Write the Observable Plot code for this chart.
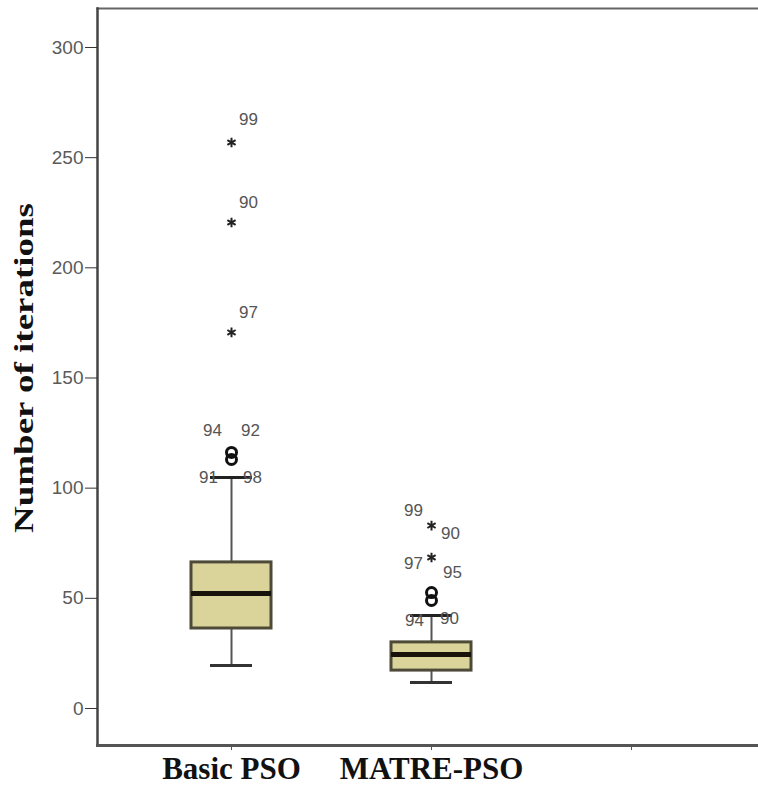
<!DOCTYPE html>
<html><head><meta charset="utf-8">
<script src="https://cdn.jsdelivr.net/npm/d3@7"></script>
<script src="https://cdn.jsdelivr.net/npm/@observablehq/plot@0.6"></script>
<style>body{margin:0;background:#fff;overflow:hidden}</style>
</head><body><div id="chart"></div>
<script>
// ---- data ----
const categories = ["Basic PSO", "MATRE-PSO", " "];   // third slot is an empty, unlabeled category
const groups = ["Basic PSO", "MATRE-PSO"];
const q1 = [36.3, 17.2];
const medians = [52.2, 24.5];
const q3 = [66.3, 30.0];
const whiskerLow = [19.5, 11.8];
const whiskerHigh = [104.8, 42.2];
const circleGroup = ["Basic PSO", "Basic PSO", "MATRE-PSO", "MATRE-PSO"];
const circleValue = [113.0, 116.2, 49.0, 52.6];
const starGroup = ["Basic PSO", "Basic PSO", "Basic PSO", "MATRE-PSO", "MATRE-PSO"];
const starValue = [256.9, 220.6, 170.7, 83.0, 68.5];
const labelText = ["99", "90", "97", "94", "92", "91", "98", "99", "90", "97", "95", "94", "90"];
const labelGroup = ["Basic PSO", "Basic PSO", "Basic PSO", "Basic PSO", "Basic PSO", "Basic PSO", "Basic PSO",
  "MATRE-PSO", "MATRE-PSO", "MATRE-PSO", "MATRE-PSO", "MATRE-PSO", "MATRE-PSO"];
const labelValue = [256.9, 220.6, 170.7, 116.2, 116.2, 104.8, 104.8, 83.0, 83.0, 68.5, 68.5, 49.0, 49.0];
const yTicks = [0, 50, 100, 150, 200, 250, 300];
const yLabel = "Number of iterations";

// ---- tables built from the arrays ----
const boxes = groups.map((g, i) => ({group: g, q1: q1[i], median: medians[i], q3: q3[i], lo: whiskerLow[i], hi: whiskerHigh[i]}));
const circles = circleGroup.map((g, i) => ({group: g, value: circleValue[i]}));
const stars = starGroup.map((g, i) => ({group: g, value: starValue[i]}));
// label placement offsets (pixels) relative to the point they annotate
const labelOffsets = [[17,-23],[17,-20],[17,-20],[-19,-22],[19,-22],[-23,0],[21,0],[-18,-15],[19,8],[-18,6],[21,15],[-17,20],[18,18]];
const labels = labelText.map((t, i) => ({text: t, group: labelGroup[i], value: labelValue[i], dx: labelOffsets[i][0], dy: labelOffsets[i][1]}));

const W = 758, H = 795;
const boxInset = 60, capInset = 79;
const sans = "Liberation Sans, Arial, sans-serif";
const serif = "Liberation Serif, Times New Roman, serif";

const marks = [
  Plot.frame({anchor: "top", stroke: "#666", strokeWidth: 2}),
  Plot.frame({anchor: "left", stroke: "#444", strokeWidth: 2.5}),
  Plot.frame({anchor: "bottom", stroke: "#555", strokeWidth: 3}),
  Plot.axisY({ticks: yTicks, tickSize: 12, tickPadding: 2, fontSize: 19, fill: "#5a5a5a", stroke: "#333",
    fontFamily: sans, label: null}),
  Plot.axisX({tickSize: 5, tickPadding: 6, fontSize: 31, fontWeight: "bold", fill: "#111",
    fontFamily: serif, label: null, stroke: "#555"}),
  Plot.text([yLabel], {frameAnchor: "left", dx: -73, dy: -9, rotate: -90, textAnchor: "middle",
    fontSize: 27, fontWeight: "bold", fontFamily: serif, fill: "#111"}),
  // whiskers
  Plot.ruleX(boxes, {x: "group", y1: "lo", y2: "q1", stroke: "#555", strokeWidth: 2}),
  Plot.ruleX(boxes, {x: "group", y1: "q3", y2: "hi", stroke: "#555", strokeWidth: 2}),
  Plot.tickY(boxes, {x: "group", y: "lo", inset: capInset, stroke: "#333", strokeWidth: 3}),
  Plot.tickY(boxes, {x: "group", y: "hi", inset: capInset, stroke: "#222", strokeWidth: 3}),
  // boxes
  Plot.barY(boxes, {x: "group", y1: "q1", y2: "q3", insetLeft: boxInset, insetRight: boxInset,
    fill: "#dad49b", stroke: "#4d4a38", strokeWidth: 3}),
  Plot.tickY(boxes, {x: "group", y: "median", inset: boxInset, stroke: "#17130a", strokeWidth: 5}),
  // outliers
  Plot.dot(circles, {x: "group", y: "value", r: 5, stroke: "#111", strokeWidth: 3, fill: "none"}),
  Plot.dot(stars, {x: "group", y: "value", r: 4.5, symbol: "asterisk", stroke: "#222", strokeWidth: 2})
];
for (const l of labels) {
  marks.push(Plot.text([l], {x: "group", y: "value", text: "text", dx: l.dx, dy: l.dy, fontSize: 17, fill: "#555",
    fontFamily: sans}));
}

const chart = Plot.plot({
  width: W, height: H,
  marginLeft: 97, marginRight: 0, marginTop: 8, marginBottom: 50,
  style: {background: "#fff", overflow: "visible"},
  x: {type: "band", domain: categories, range: [131, 731], padding: 0},
  y: {domain: [-16.8, 317.7]},
  marks
});
// stretch the axis title to the reference's length
d3.select(chart).selectAll("text").filter(function () { return this.textContent === yLabel; })
  .attr("textLength", 330).attr("lengthAdjust", "spacingAndGlyphs");
document.getElementById("chart").append(chart);
</script>
</body></html>
